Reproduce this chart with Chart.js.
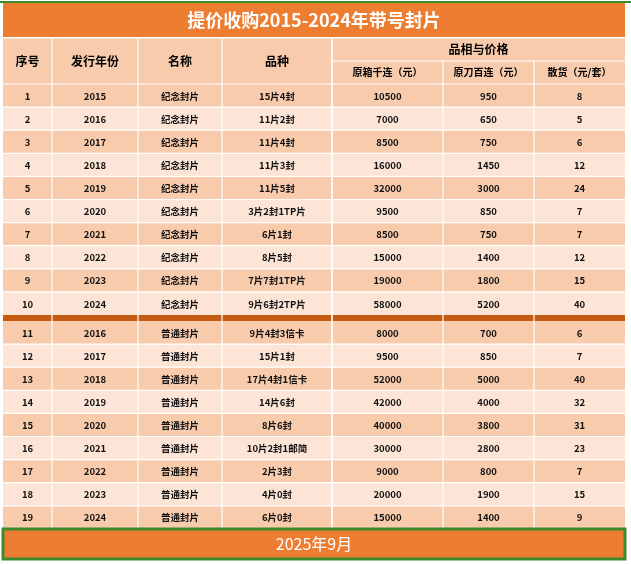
<!DOCTYPE html>
<html><head><meta charset="utf-8">
<script src="https://cdn.jsdelivr.net/npm/chart.js"></script>
<style>html,body{margin:0;padding:0;background:#fff}#wrap{width:631px;height:564px}</style>
</head><body><div id="wrap"><canvas id="c" width="631" height="564"></canvas></div>
<script>
const title = "提价收购2015-2024年带号封片";
const footer = "2025年9月";
const headers = ["序号","发行年份","名称","品种"];
const groupHeader = "品相与价格";
const subHeaders = ["原箱千连（元）","原刀百连（元）","散货（元/套）"];
const ids = [1,2,3,4,5,6,7,8,9,10,11,12,13,14,15,16,17,18,19];
const years = [2015,2016,2017,2018,2019,2020,2021,2022,2023,2024,2016,2017,2018,2019,2020,2021,2022,2023,2024];
const names = ["纪念封片","纪念封片","纪念封片","纪念封片","纪念封片","纪念封片","纪念封片","纪念封片","纪念封片","纪念封片","普通封片","普通封片","普通封片","普通封片","普通封片","普通封片","普通封片","普通封片","普通封片"];
const kinds = ["15片4封","11片2封","11片4封","11片3封","11片5封","3片2封1TP片","6片1封","8片5封","7片7封1TP片","9片6封2TP片","9片4封3信卡","15片1封","17片4封1信卡","14片6封","8片6封","10片2封1邮简","2片3封","4片0封","6片0封"];
const boxPrice = [10500,7000,8500,16000,32000,9500,8500,15000,19000,58000,8000,9500,52000,42000,40000,30000,9000,20000,15000];
const knifePrice = [950,650,750,1450,3000,850,750,1400,1800,5200,700,850,5000,4000,3800,2800,800,1900,1400];
const loosePrice = [8,5,6,12,24,7,7,12,15,40,6,7,40,32,31,23,7,15,9];

const colX = [3,52,138,222,332,443,534,625];
const tablePlugin = {
  id:'table',
  afterDraw(chart){
    const ctx = chart.ctx, xs = chart.scales.x, ys = chart.scales.y;
    const X = v=>xs.getPixelForValue(v), Y = v=>ys.getPixelForValue(v);
    const rect=(x0,y0,x1,y1,c)=>{ctx.fillStyle=c;ctx.fillRect(X(x0),Y(y0),X(x1)-X(x0),Y(y1)-Y(y0));};
    const text=(s,x,y,font,c)=>{ctx.font=font;ctx.fillStyle=c;ctx.textAlign='center';ctx.textBaseline='middle';ctx.fillText(s,X(x),Y(y));};
    ctx.save();
    // top green line & title
    rect(0,1,631,3,'#3C8C2C');
    rect(3,3,625,37,'#ED7D31');
    text(title,314,20,'bold 18px "Noto Sans CJK SC"','#fff');
    // header
    rect(3,38,625,84,'#F8CBAD');
    const hf='bold 12px "Noto Sans CJK SC"';
    for(let i=0;i<4;i++) text(headers[i],(colX[i]+colX[i+1])/2,61,hf,'#000');
    text(groupHeader,(colX[4]+colX[7])/2,49.5,hf,'#000');
    const sf='bold 10px "Noto Sans CJK SC"';
    for(let i=0;i<3;i++) text(subHeaders[i],(colX[4+i]+colX[5+i])/2,72.5,sf,'#000');
    // rows
    const rowH=23.1, sepH=6;
    const rowTop=i=> i<10 ? 84+i*rowH : 84+10*rowH+sepH+(i-10)*rowH;
    const rf='bold 9.5px "Noto Sans CJK SC"';
    ids.forEach((id,i)=>{
      const t=rowTop(i), b=t+rowH;
      rect(3,t,625,b,(i%2===0)?'#F8CBAD':'#FCE4D6');
      const vals=[id,years[i],names[i],kinds[i],boxPrice[i],knifePrice[i],loosePrice[i]];
      vals.forEach((v,j)=>text(String(v),(colX[j]+colX[j+1])/2,(t+b)/2+0.5,rf,'#111'));
    });
    const sepT=84+10*rowH;
    rect(3,sepT,625,sepT+sepH,'#C55A11');
    // grid lines
    ctx.strokeStyle='#fff'; ctx.lineWidth=1.2;
    const line=(x0,y0,x1,y1)=>{ctx.beginPath();ctx.moveTo(X(x0),Y(y0));ctx.lineTo(X(x1),Y(y1));ctx.stroke();};
    const endY=rowTop(18)+rowH;
    colX.slice(1,-1).forEach((x,k)=>{ line(x, k+1>=5?61:38, x, endY); if(k+1<5) {} });
    line(colX[4],38,colX[4],endY);
    line(colX[4],61,625,61);
    line(3,38,625,38);
    line(3,84,625,84);
    for(let i=1;i<19;i++){ if(i===10) continue; line(3,rowTop(i),625,rowTop(i)); }
    // footer
    rect(3,529,625,559,'#ED7D31');
    ctx.strokeStyle='#3C8C2C'; ctx.lineWidth=3;
    ctx.strokeRect(X(3),Y(529),X(625)-X(3),Y(559)-Y(529));
    text(footer,314,544,'16px "Noto Sans CJK SC"','#fff');
    ctx.restore();
  }
};
new Chart(document.getElementById('c'),{
  type:'scatter',
  data:{datasets:[{data:[]}]},
  options:{
    responsive:false, animation:false, devicePixelRatio:1,
    layout:{padding:0},
    plugins:{legend:{display:false},tooltip:{enabled:false}},
    scales:{
      x:{type:'linear',min:0,max:631,display:false},
      y:{type:'linear',min:0,max:564,reverse:true,display:false}
    }
  },
  plugins:[tablePlugin]
});
</script></body></html>
